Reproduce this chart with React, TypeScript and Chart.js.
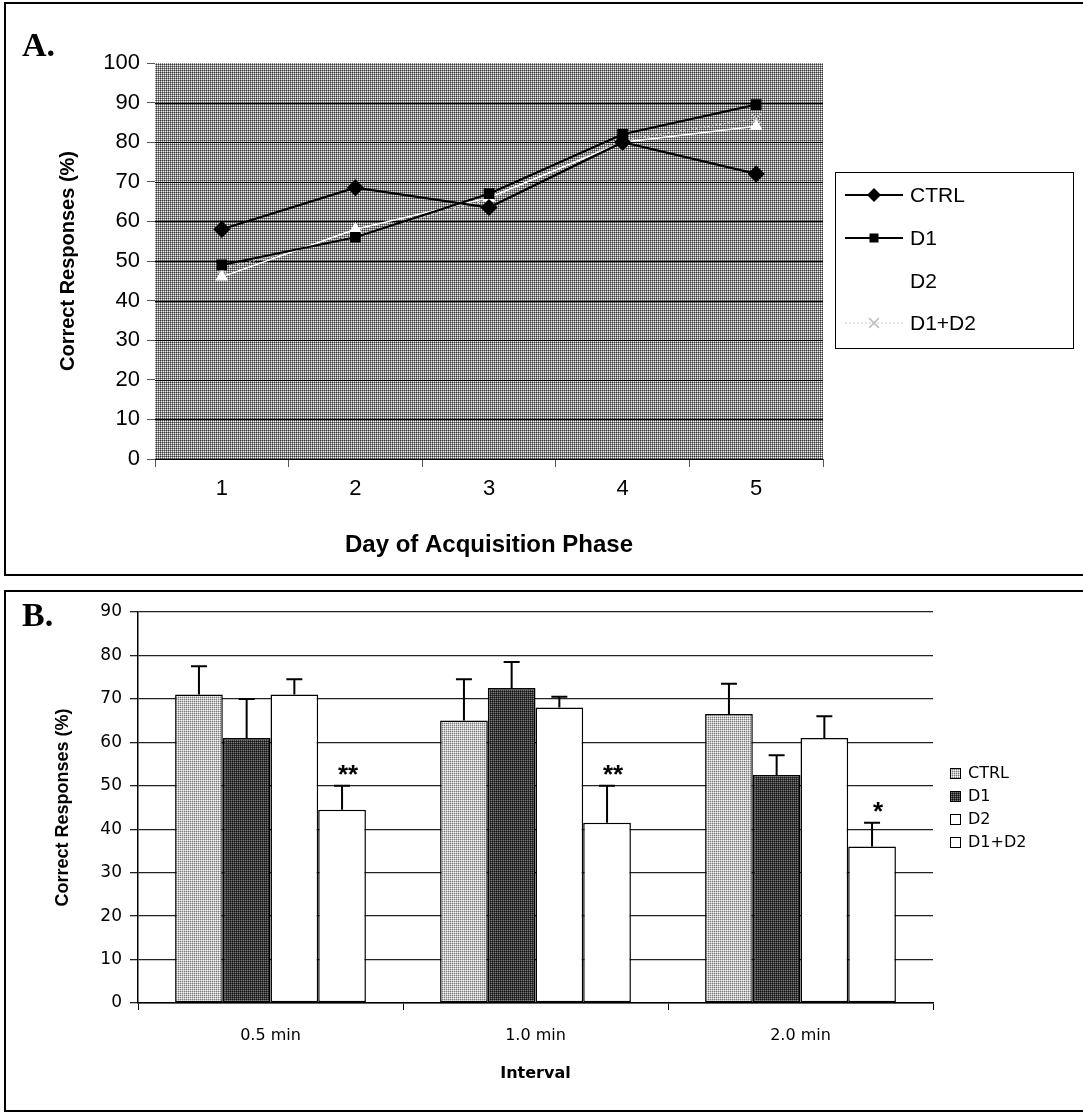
import React, { useEffect, useRef } from 'react';
import { Chart, registerables } from 'chart.js';
Chart.register(...registerables);

// ---------- Data: panel A ----------
const days = ['1', '2', '3', '4', '5'];
const ctrlA = [58, 68.5, 63.5, 80, 72];
const d1A = [49, 56, 67, 82, 89.5];
const d2A = [46, 58, 66, 80, 84];
const d1d2A = [48, 56.5, 65.5, 80.5, 86];
const seriesNames = ['CTRL', 'D1', 'D2', 'D1+D2'];

// ---------- Data: panel B ----------
const intervals = ['0.5 min', '1.0 min', '2.0 min'];
const ctrlB = [71, 65, 66.5];
const ctrlBErrTop = [77.5, 74.5, 73.5];
const d1B = [61, 72.5, 52.5];
const d1BErrTop = [70, 78.5, 57];
const d2B = [71, 68, 61];
const d2BErrTop = [74.5, 70.5, 66];
const d1d2B = [44.5, 41.5, 36];
const d1d2BErrTop = [50, 50, 41.5];
const significance = ['**', '**', '*'];

const SANS = '"Liberation Sans", Arial, Helvetica, sans-serif';
const WIDE = '"DejaVu Sans", Verdana, sans-serif';

function makePattern(rows: string[][]) {
  const c = document.createElement('canvas');
  c.width = rows[0].length;
  c.height = rows.length;
  const g = c.getContext('2d')!;
  rows.forEach((row, y) => row.forEach((col, x) => { g.fillStyle = col; g.fillRect(x, y, 1, 1); }));
  return g.createPattern(c, 'repeat')!;
}

function drawMarker(ctx: CanvasRenderingContext2D, style: string, x: number, y: number, r: number, color: string) {
  ctx.save();
  ctx.fillStyle = color;
  ctx.strokeStyle = color;
  ctx.lineWidth = 1.5;
  ctx.beginPath();
  if (style === 'rectRot') {
    ctx.moveTo(x, y - r); ctx.lineTo(x + r, y); ctx.lineTo(x, y + r); ctx.lineTo(x - r, y); ctx.closePath(); ctx.fill();
  } else if (style === 'rect') {
    ctx.rect(x - r * 0.75, y - r * 0.75, r * 1.5, r * 1.5); ctx.fill();
  } else if (style === 'triangle') {
    ctx.moveTo(x, y - r); ctx.lineTo(x + r, y + r * 0.7); ctx.lineTo(x - r, y + r * 0.7); ctx.closePath(); ctx.fill();
  } else if (style === 'crossRot') {
    ctx.moveTo(x - r * 0.7, y - r * 0.7); ctx.lineTo(x + r * 0.7, y + r * 0.7);
    ctx.moveTo(x + r * 0.7, y - r * 0.7); ctx.lineTo(x - r * 0.7, y + r * 0.7); ctx.stroke();
  }
  ctx.restore();
}

export default function App() {
  const refA = useRef<HTMLCanvasElement>(null);
  const refB = useRef<HTMLCanvasElement>(null);

  useEffect(() => {
    const bgA = makePattern([
      ['#3a3a3a', '#8a8a8a'],
      ['#8a8a8a', '#f2f2f2'],
    ]);
    const ctrlFill = makePattern([
      ['#7a7a7a', '#c4c4c4'],
      ['#c4c4c4', '#f4f4f4'],
    ]);
    const d1Fill = makePattern([
      ['#141414', '#3a3a3a'],
      ['#3a3a3a', '#7a7a7a'],
    ]);

    const bgPluginA = {
      id: 'bgA',
      beforeDatasetsDraw(chart: any) {
        const { ctx, chartArea: a, scales } = chart;
        ctx.save();
        ctx.fillStyle = bgA;
        ctx.fillRect(a.left, a.top, a.right - a.left, a.bottom - a.top);
        ctx.strokeStyle = '#000';
        ctx.lineWidth = 1.2;
        scales.y.ticks.forEach((t: any) => {
          if (t.value >= 100) return;
          const y = Math.round(scales.y.getPixelForValue(t.value)) + 0.5;
          ctx.beginPath(); ctx.moveTo(a.left, y); ctx.lineTo(a.right, y); ctx.stroke();
        });
        ctx.restore();
      },
    };

    const legendPluginA = {
      id: 'legendA',
      afterDraw(chart: any) {
        const { ctx } = chart;
        ctx.save();
        ctx.strokeStyle = '#000';
        ctx.lineWidth = 1;
        ctx.strokeRect(835.5, 172.5, 238, 176);
        const ys = [195, 238, 281, 323];
        chart.data.datasets.forEach((ds: any, i: number) => {
          const y = ys[i];
          ctx.save();
          ctx.strokeStyle = ds.borderColor;
          ctx.lineWidth = ds.borderWidth;
          ctx.setLineDash(ds.borderDash || []);
          ctx.beginPath(); ctx.moveTo(845, y); ctx.lineTo(903, y); ctx.stroke();
          ctx.restore();
          drawMarker(ctx, ds.pointStyle, 874, y, ds.pointRadius, ds.pointBorderColor);
          ctx.fillStyle = '#000';
          ctx.font = `21px ${SANS}`;
          ctx.textBaseline = 'middle';
          ctx.textAlign = 'left';
          ctx.fillText(seriesNames[i], 910, y + 1);
        });
        ctx.restore();
      },
    };

    const chartA = new Chart(refA.current!, {
      type: 'line',
      data: {
        labels: days,
        datasets: [
          { label: seriesNames[0], data: ctrlA, borderColor: '#000', borderWidth: 2.2, pointStyle: 'rectRot', pointRadius: 7, pointBackgroundColor: '#000', pointBorderColor: '#000' },
          { label: seriesNames[1], data: d1A, borderColor: '#000', borderWidth: 2.2, pointStyle: 'rect', pointRadius: 6, pointBackgroundColor: '#000', pointBorderColor: '#000' },
          { label: seriesNames[2], data: d2A, borderColor: '#ffffff', borderWidth: 1.5, pointStyle: 'triangle', pointRadius: 6, pointBackgroundColor: '#ffffff', pointBorderColor: '#ffffff' },
          { label: seriesNames[3], data: d1d2A, borderColor: '#c8c8c8', borderWidth: 1.2, borderDash: [2, 2], pointStyle: 'crossRot', pointRadius: 7, pointBackgroundColor: '#c8c8c8', pointBorderColor: '#bdbdbd', pointBorderWidth: 1.2 },
        ] as any,
      },
      options: {
        responsive: false,
        animation: false,
        layout: { padding: { left: 56, right: 1083 - 823, top: 63, bottom: 20 } },
        plugins: { legend: { display: false }, tooltip: { enabled: false } },
        scales: {
          x: {
            offset: true,
            grid: { offset: true, drawOnChartArea: false, tickLength: 8, color: '#555' },
            border: { color: '#555', width: 1 },
            ticks: { color: '#000', font: { family: SANS, size: 22 }, padding: 9 },
            title: { display: true, text: 'Day of Acquisition Phase', color: '#000', font: { family: SANS, size: 24, weight: 'bold' }, padding: { top: 0, bottom: 0 } },
            afterFit: (s: any) => { s.height = 580 - 459 - 20; },
          },
          y: {
            min: 0,
            max: 100,
            ticks: { stepSize: 10, color: '#000', font: { family: SANS, size: 22 }, padding: 7 },
            grid: { color: 'rgba(0,0,0,0)', tickLength: 8, tickColor: '#555', drawOnChartArea: true },
            border: { color: '#666', width: 1 },
            title: { display: true, text: 'Correct Responses (%)', color: '#000', font: { family: SANS, size: 20, weight: 'bold' }, padding: { top: 0, bottom: 0 } },
            afterFit: (s: any) => { s.width = 155 - 56; },
          },
        },
      } as any,
      plugins: [bgPluginA, legendPluginA],
    });

    // ---------- Panel B ----------
    const errTops = [ctrlBErrTop, d1BErrTop, d2BErrTop, d1d2BErrTop];
    const errPluginB = {
      id: 'errB',
      afterDatasetsDraw(chart: any) {
        const { ctx, scales } = chart;
        ctx.save();
        ctx.strokeStyle = '#000';
        ctx.lineWidth = 2;
        chart.data.datasets.forEach((ds: any, i: number) => {
          const meta = chart.getDatasetMeta(i);
          meta.data.forEach((bar: any, j: number) => {
            const yTop = scales.y.getPixelForValue(errTops[i][j]);
            ctx.beginPath();
            ctx.moveTo(bar.x, bar.y); ctx.lineTo(bar.x, yTop);
            ctx.moveTo(bar.x - 8, yTop); ctx.lineTo(bar.x + 8, yTop);
            ctx.stroke();
            if (i === 3) {
              ctx.fillStyle = '#000';
              ctx.font = `bold 26px ${SANS}`;
              ctx.textAlign = 'center';
              ctx.textBaseline = 'alphabetic';
              ctx.fillText(significance[j], bar.x + 6, yTop - 3);
            }
          });
        });
        ctx.restore();
      },
    };

    const legendPluginB = {
      id: 'legendB',
      afterDraw(chart: any) {
        const { ctx } = chart;
        ctx.save();
        const ys = [188, 211, 234, 257];
        chart.data.datasets.forEach((ds: any, i: number) => {
          const y = ys[i];
          ctx.fillStyle = ds.backgroundColor;
          ctx.fillRect(950, y - 5, 11, 11);
          ctx.strokeStyle = '#000';
          ctx.lineWidth = 1;
          ctx.strokeRect(950.5, y - 4.5, 10, 10);
          ctx.fillStyle = '#000';
          ctx.font = `16px ${WIDE}`;
          ctx.textBaseline = 'middle';
          ctx.textAlign = 'left';
          ctx.fillText(seriesNames[i], 968, y + 1);
        });
        ctx.restore();
      },
    };

    const chartB = new Chart(refB.current!, {
      type: 'bar',
      data: {
        labels: intervals,
        datasets: [
          { label: seriesNames[0], data: ctrlB, backgroundColor: ctrlFill },
          { label: seriesNames[1], data: d1B, backgroundColor: d1Fill },
          { label: seriesNames[2], data: d2B, backgroundColor: '#ffffff' },
          { label: seriesNames[3], data: d1d2B, backgroundColor: '#ffffff' },
        ] as any,
      },
      options: {
        responsive: false,
        animation: false,
        layout: { padding: { left: 52, right: 1083 - 933, top: 27, bottom: 10 } },
        datasets: { bar: { barPercentage: 1, categoryPercentage: 0.72, borderColor: '#000', borderWidth: 1.5, borderSkipped: false } },
        plugins: { legend: { display: false }, tooltip: { enabled: false } },
        scales: {
          x: {
            grid: { offset: true, drawOnChartArea: false, tickLength: 7, color: '#000' },
            border: { color: '#000', width: 1.5 },
            ticks: { color: '#000', font: { family: WIDE, size: 16 }, padding: 16 },
            title: { display: true, text: 'Interval', color: '#000', font: { family: WIDE, size: 16, weight: 'bold' }, padding: { top: 0, bottom: 27 } },
            afterFit: (s: any) => { s.height = 535 - 418 - 10; },
          },
          y: {
            min: 0,
            max: 90,
            ticks: { stepSize: 10, color: '#000', font: { family: WIDE, size: 17 }, padding: 8 },
            grid: { color: '#222', lineWidth: 1.3, tickLength: 8 },
            border: { color: '#000', width: 1.5 },
            title: { display: true, text: 'Correct Responses (%)', color: '#000', font: { family: SANS, size: 18, weight: 'bold' }, padding: { top: 0, bottom: 0 } },
            afterFit: (s: any) => { s.width = 138 - 52; },
          },
        },
      } as any,
      plugins: [errPluginB, legendPluginB],
    });

    return () => { chartA.destroy(); chartB.destroy(); };
  }, []);

  const letter: React.CSSProperties = { position: 'absolute', font: 'bold 34px "Liberation Serif", "Times New Roman", serif', color: '#000', lineHeight: '34px' };

  return (
    <div style={{ position: 'absolute', left: 0, top: 0, width: 1083, height: 1120, background: '#fff', overflow: 'hidden' }}>
      <div style={{ position: 'absolute', left: 4, top: 2, width: 1100, height: 570, border: '2px solid #000' }} />
      <div style={{ position: 'absolute', left: 4, top: 590, width: 1100, height: 518, border: '2px solid #000' }} />
      <canvas ref={refA} width={1083} height={580} style={{ position: 'absolute', left: 0, top: 0, width: 1083, height: 580 }} />
      <canvas ref={refB} width={1083} height={535} style={{ position: 'absolute', left: 0, top: 585, width: 1083, height: 535 }} />
      <div style={{ ...letter, left: 22, top: 28 }}>A.</div>
      <div style={{ ...letter, left: 22, top: 598 }}>B.</div>
    </div>
  );
}
